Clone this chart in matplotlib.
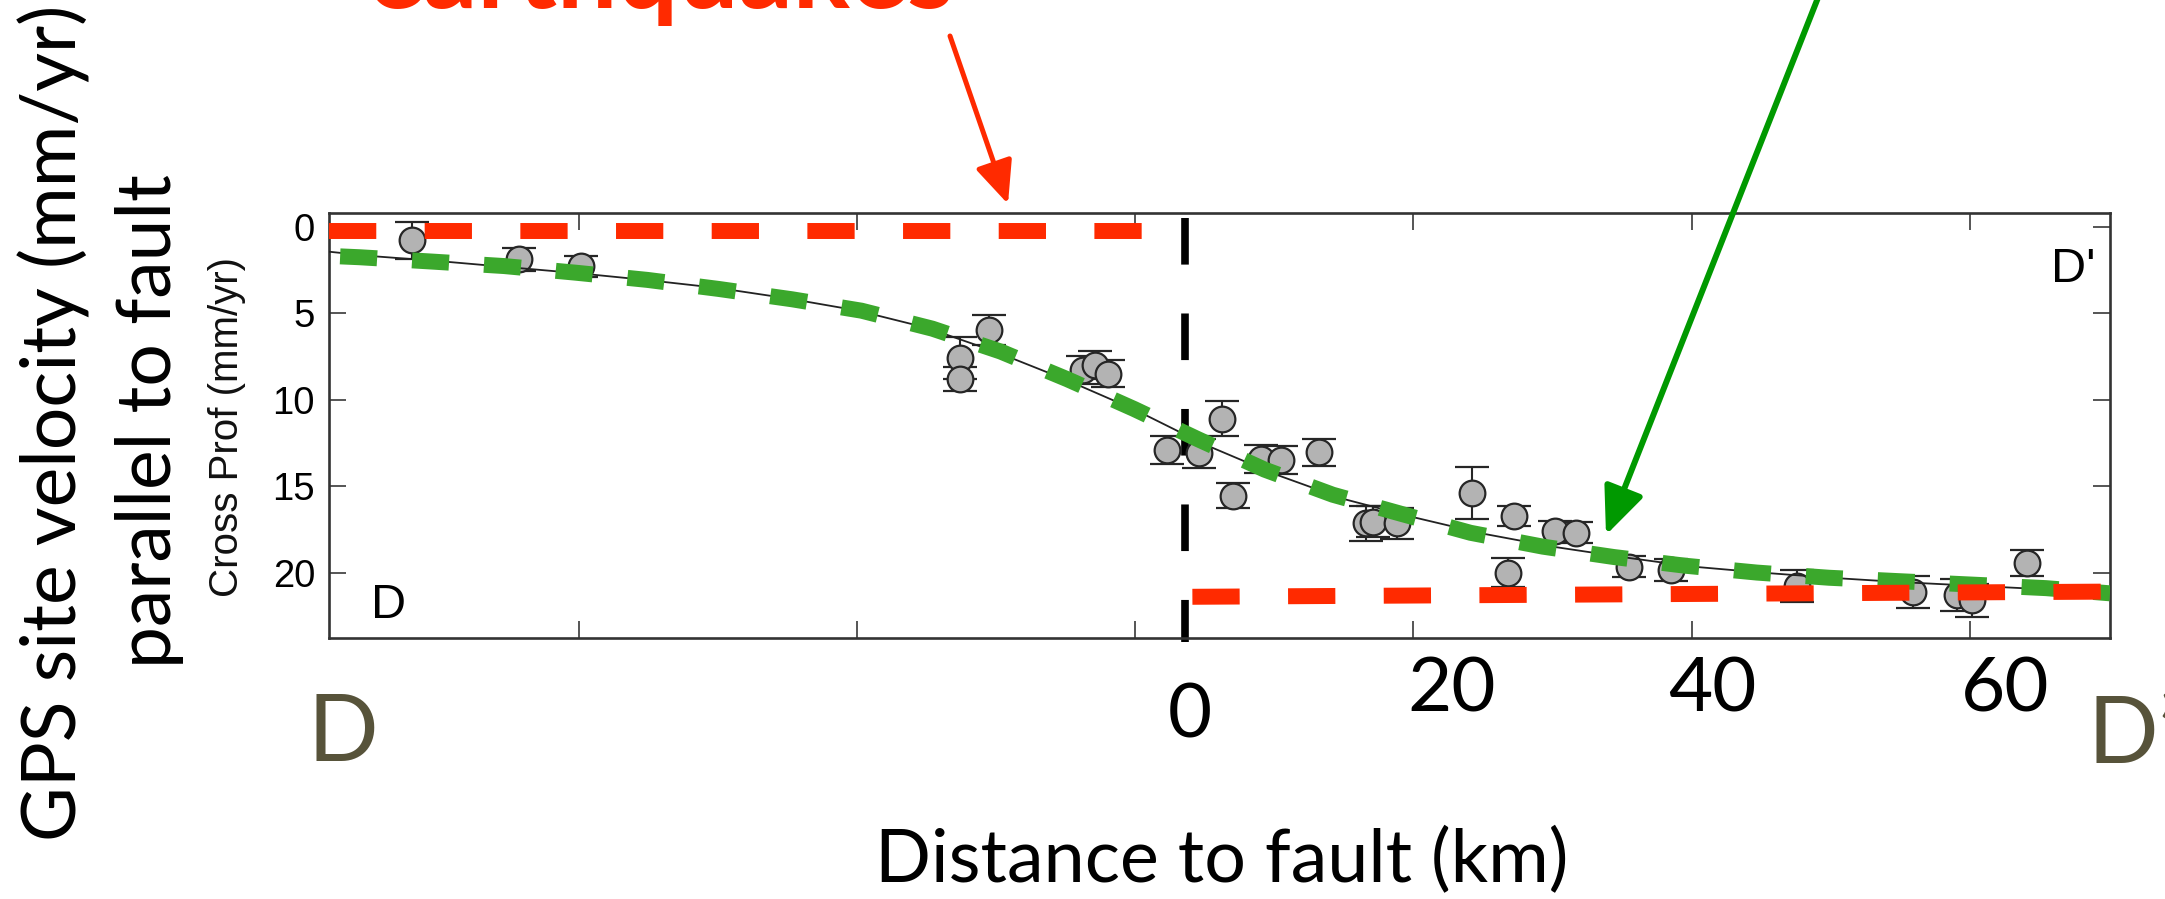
import matplotlib
matplotlib.use("Agg")
import matplotlib.pyplot as plt
from matplotlib.patches import FancyArrowPatch

# ---------------- data ----------------
# GPS sites: distance to fault (km), fault-parallel velocity (mm/yr), 1-sigma error
site_x = [-52.0, -44.3, -39.9, -12.6, -12.6, -10.5, -3.8, -2.9, -2.0, 2.3, 4.6,
          6.2, 7.0, 9.0, 10.5, 13.2, 16.6, 17.1, 18.8, 24.2, 27.2, 26.8, 30.2,
          31.7, 35.5, 38.5, 47.6, 55.9, 59.1, 60.2, 64.1]
site_v = [0.8, 1.9, 2.3, 7.6, 8.8, 6.0, 8.3, 8.0, 8.5, 12.9, 13.1,
          11.1, 15.55, 13.45, 13.5, 13.05, 17.15, 17.05, 17.15, 15.4, 16.75, 20.0, 17.6,
          17.7, 19.65, 19.85, 20.8, 21.1, 21.3, 21.6, 19.45]
site_err = [1.06, 0.68, 0.6, 1.2, 0.68, 0.87, 0.8, 0.8, 0.8, 0.8, 0.85,
            1.0, 0.7, 0.8, 0.8, 0.8, 1.0, 0.9, 0.9, 1.52, 0.58, 0.82, 0.6,
            0.6, 0.62, 0.65, 0.92, 0.93, 0.95, 0.95, 0.77]

# black model curve
model_x = [-58, -55, -50, -45, -40, -35, -30, -25, -20, -15, -10, -5, 0, 5, 10,
           15, 20, 25, 30, 35, 40, 45, 50, 55, 60, 65, 70.1]
model_v = [1.45, 1.7, 2.0, 2.35, 2.7, 3.1, 3.55, 4.15, 4.85, 5.85, 7.25, 8.85, 10.6,
           12.6, 14.3, 15.75, 16.8, 17.75, 18.5, 19.1, 19.65, 20.0, 20.3, 20.55,
           20.75, 20.95, 21.05]

# green dashed (hand-drawn) curve
green_x = [-57.2, -55.8, -50.6, -45.4, -40.3, -35.1, -30.0, -24.7, -19.7, -14.6, -9.7,
           -4.9, -0.1, 4.5, 9.3, 14.2, 19.1, 24.1, 29.3, 34.4, 39.5, 44.7, 49.9,
           55.0, 60.3, 65.5, 70.1]
green_v = [1.72, 1.77, 2.02, 2.28, 2.66, 3.08, 3.6, 4.2, 4.86, 5.9, 7.22,
           8.82, 10.54, 12.29, 14.05, 15.5, 16.6, 17.7, 18.5, 19.1, 19.6, 20.0, 20.3,
           20.5, 20.7, 20.9, 21.2]

# red dashed (locked / earthquakes) segments
red_left_x = [-58.0, 0.8]
red_left_v = [0.27, 0.27]
red_right_x = [4.1, 70.1]
red_right_v = [21.4, 21.1]

# fault trace (vertical dashed line)
fault_x = [3.6, 3.6]
fault_v = [-0.5, 24.0]

y_ticks = [0, 5, 10, 15, 20]
x_ticks = [-40, -20, 0, 20, 40, 60]
big_x_labels = ["0", "20", "40", "60"]

# ---------------- figure ----------------
W, H = 2165, 899
fig = plt.figure(figsize=(W / 100, H / 100), dpi=100)


def P(x, y):
    """full-resolution pixel position (y from top) -> figure fraction"""
    return x / W, 1 - y / H


ax = fig.add_axes([329 / W, 1 - 638.3 / H, (2110 - 329) / W, (638.3 - 213.3) / H])
ax.set_xlim(-58.0, 70.1)
ax.set_ylim(23.8, -0.77)

GREEN = "#3BA82C"
RED = "#FF2A00"

# fault line
ln, = ax.plot(fault_x, fault_v, color="black", lw=5.5, zorder=1.5, clip_on=False,
              solid_capstyle="butt")
ln.set_dashes((6.1, 6.4))

# data
ax.errorbar(site_x, site_v, yerr=site_err, fmt="o", ms=18.5, mfc="#b3b3b3",
            mec="#262626", mew=1.6, ecolor="#262626", elinewidth=1.5,
            capsize=11.9, capthick=1.6, zorder=2)

# model
ax.plot(model_x, model_v, color="#222222", lw=1.3, zorder=3)

# green dashed
g, = ax.plot(green_x, green_v, color=GREEN, lw=11.5, zorder=4)
g.set_dashes((2.32, 2.19))

# red dashed
r1, = ax.plot(red_left_x, red_left_v, color=RED, lw=11.5, zorder=5)
r1.set_dashes((2.96, 3.03))
r2, = ax.plot(red_right_x, red_right_v, color=RED, lw=11.5, zorder=5)
r2.set_dashes((2.96, 3.03))

# axes styling
ax.set_xticks(x_ticks)
ax.set_yticks(y_ticks)
ax.tick_params(axis="both", which="both", direction="in", length=12.2, width=1.4,
               color="#555555", top=True, right=True, labelbottom=False,
               labelsize=27.5, pad=10)
for lab in ax.get_yticklabels():
    lab.set_fontfamily("Liberation Sans")
for s in ax.spines.values():
    s.set_color("#333333")
    s.set_linewidth(1.9)

# inner labels
fig.text(*P(227, 427), "Cross Prof (mm/yr)", rotation=90, ha="center", va="center",
         fontsize=29, family="Liberation Sans", color="#111111")
fig.text(*P(371, 618), "D", ha="left", va="baseline", fontsize=35,
         family="Liberation Sans")
fig.text(*P(2051, 282), "D'", ha="left", va="baseline", fontsize=35,
         family="Liberation Sans")

# big overlay labels
fig.text(*P(77, 423), "GPS site velocity (mm/yr)", rotation=90, rotation_mode="anchor",
         ha="center", va="baseline", fontsize=54, family="Lato")
fig.text(*P(171, 421.5), "parallel to fault", rotation=90, rotation_mode="anchor",
         ha="center", va="baseline", fontsize=54, family="Lato")
fig.text(*P(1222, 882), "Distance to fault (km)", ha="center", va="baseline",
         fontsize=53, family="Lato")

OLIVE = "#57533A"
fig.text(*P(307, 761), "D", ha="left", va="baseline", fontsize=67, family="Lato",
         color=OLIVE)
fig.text(*P(2088, 763), "D\u2019", ha="left", va="baseline", fontsize=67, family="Lato",
         color=OLIVE)

big_pos = [(1190, 738), (1452, 712), (1712, 712), (2005, 712)]
for lab, (px, py) in zip(big_x_labels, big_pos):
    fig.text(*P(px, py), lab, ha="center", va="baseline", fontsize=55, family="Lato")

# "earthquakes" (cut off by the top edge, as in the reference)
fig.text(*P(661, 8), "earthquakes", ha="center", va="baseline", fontsize=77,
         family="Lato", fontweight="bold", color=RED)

# arrows (figure pixel coordinates)
red_arrow = FancyArrowPatch(P(950, 36), P(1008, 204), transform=fig.transFigure,
                            arrowstyle="-|>,head_length=26,head_width=11.5",
                            mutation_scale=1, color=RED, lw=3.6, shrinkA=0, shrinkB=0)
fig.patches.append(red_arrow)
green_arrow = FancyArrowPatch(P(1825, -20), P(1606, 535), transform=fig.transFigure,
                              arrowstyle="-|>,head_length=29,head_width=12.5",
                              mutation_scale=1, color="#009900", lw=4.3,
                              shrinkA=0, shrinkB=0)
fig.patches.append(green_arrow)

fig.savefig("out.png", dpi=100)
